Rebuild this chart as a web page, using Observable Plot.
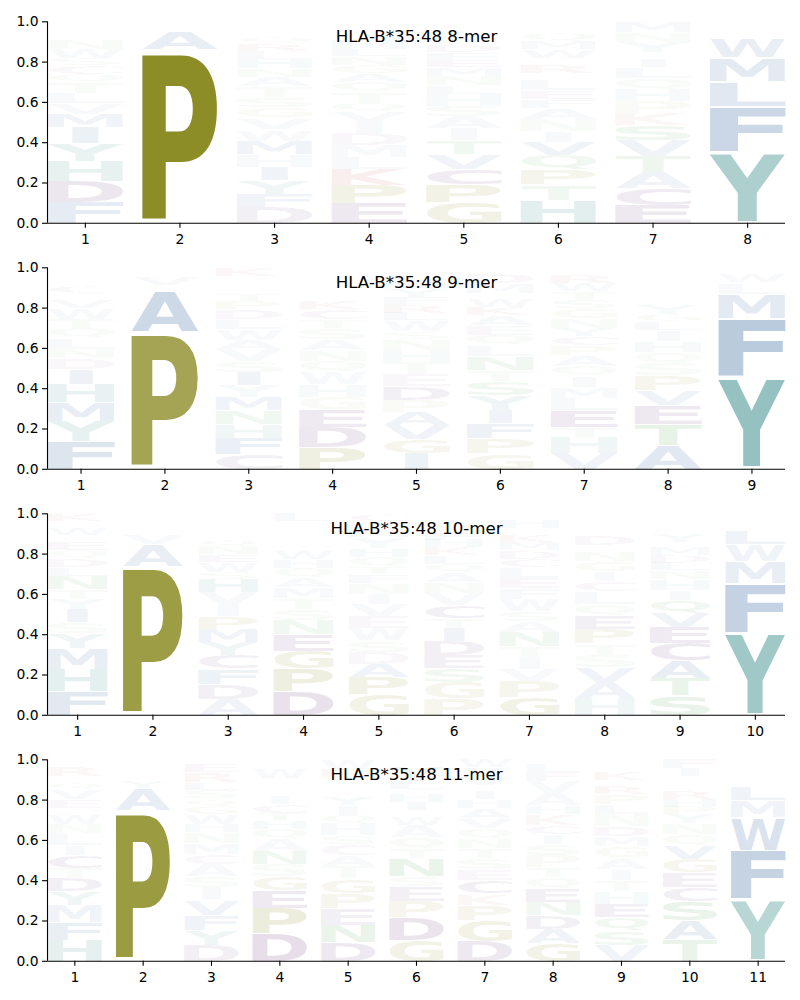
<!DOCTYPE html>
<html>
<head>
<meta charset="utf-8">
<script src="https://cdn.jsdelivr.net/npm/d3@7"></script>
<script src="https://cdn.jsdelivr.net/npm/@observablehq/plot@0.6"></script>
<style>body{margin:0;background:#fff}svg{display:block}</style>
</head>
<body>
<div id="chart"></div>
<script>
const titles = ["HLA-B*35:48 8-mer","HLA-B*35:48 9-mer","HLA-B*35:48 10-mer","HLA-B*35:48 11-mer"];

// Each string is one peptide position; letters stacked bottom-up with height in percent.
const logo8 = [
 "F10 D10 H9.5 Y8.5 I7.5 M6.5 V5 L5 T5 Q4 C4 S3.5 W4.5 N4.5 E2.5 A3 Y1.5 K1.5",
 "S1.2 P82.8 M2.5 A9 T1 Y2 W1.5 K.5",
 "D7.5 F6.5 Y6.5 I6.5 H6 M6.5 W5.5 V5.5 G5 S5 T5 A4.5 N4 H4.5 L4 R3.5 Q3.5 V2.5 K2.5 E2",
 "E9 P8.5 K7.5 L5.5 M5.5 D5.5 I5.5 V4.5 Q4 T5 Q4.5 A4 G4 N4 L3.5 H4.5 K3 S2.5 F2.5",
 "G9.5 P8.5 C7.5 V7 T6.5 I5.5 A5.5 S5 H5.5 L4 N4.5 M4 E3.5 F3.5 D3.5 Q3 T2.5 K2 W2 S1.5",
 "H10.5 T7 P7 Q6.5 V6 I5 N5.5 A5 F4 E4 L5 S3 R4 Y3 W4 M3.5 Q3.5 D3 K2.5",
 "E8.5 C8 A7.5 T7.5 V7.5 S7 K5.5 P5.5 H5.5 Q5.5 L5 I4 R3 Y5 N4.5 M5",
 "S1.2 Y33 K1.3 F21.4 S1.1 L12 T.5 M11.5 T.5 W9.5 K1 I2 T1 V1.5 E1.5 K1"
];
const logo9 = [
 "F13 Y9.5 M9 H8.5 I7 D5 N4.5 L5 Q4.5 T4.5 W5 V4 Q3 C3.5 E3 G3 K2.5",
 "S1 P65 M2 A20 T.5 Q2.5 K.5 V4 Y2 T1.5 L1",
 "C7 F7.5 H6.5 N6.5 M6 Y5.5 I6 S5 V5.5 A4.5 W5 L4.5 D4.5 P4 T3.5 Q3 E3 R2 K4",
 "P10 D9 E8 G5.5 H5.5 W5.5 Q5 N5 A5 S5 T4 C4.5 K4 L3 V3 I3 M3 R2.5",
 "I7 G6.5 V6.5 A6 P5.5 D6 E5.5 T5.5 H5.5 N5 S3.5 W5 L3.5 R3.5 F3.5 Y3.5 Q4 C3.5 M2.5",
 "G7 P6.5 F6.5 I6 Y6.5 S6 T5 N6 L5 Q4.5 E4 A4.5 K3.5 W3.5 V3 M4 D4 H3",
 "V7 H7 T5 E7.5 L5.5 M5 I5 Q4.5 A5 P4.5 C4 Y3.5 N4.5 G4.5 S4 T4 W3.5 R4 K3",
 "A11 T9.5 E8.5 V7 P6.5 S5.5 Q5 H5 I5 L4 G3.5 Y4.5 R2 M2 D3 K2 N2.5 F2.5 W2.5",
 "S1.3 Y42.9 K2 F27.7 S1 M11.6 T.5 L5.2 T.5 W3.9 K.5 V2.8"
];
const logo10 = [
 "F11 H10.5 M9.5 Y7 S5 I6 Y5 T4.5 N6 L4 D4 Q4 E4 A3 W3.5 R3 K3.5",
 "S1 P70.8 M2.2 A10.5 T.5 V5 T.5 Y2.5 Q3 T2 K2",
 "A7.5 D7 F7 C6.5 Y6 M6 P6 I5.5 V5.5 H6 S3.5 W4.5 E3.5 N4 Q3.5 L3 T2.5 V3 K3",
 "D11 P10.5 G8 E7.5 N6.5 S5 T5 M5 A4.5 Q4.5 H4 W3.5 V3 Y2.5 I2.5 K3 R3 L3.5",
 "G9.5 P8 A6 D5.5 S5.5 W5.5 E5.5 V5.5 I5 N5 F4 T3.5 Q4.5 H4 Y5 M4.5 L3 C3.5",
 "P7.5 G7.5 S6.5 E6 D6.5 I6 T4.5 C6 V5.5 N5 A4.5 Q4 L4 K3.5 H3.5 F3.5 Y2.5 S3 W3",
 "G8.5 P7.5 V6 I5.5 T5 N7 A5 S5 W5.5 F5 E5 L5 C4 D4 M4 K3.5 R3 H4 Y3",
 "H7.5 A7 V6.5 S5.5 T5 P6.5 E6 Q5 L5.5 C4.5 I4.5 G4.5 N4 Q3 D4 R2.5 K2.5 W2.5 M2.5",
 "S9 T8 A8 C8 E7.5 V6.5 Q6 I4.5 H5 N4 L3.5 D3.5 M3.5 F2.5 Y4 R3 K3 W3",
 "S.8 Y38.8 K1.5 F23.8 S.5 M10.3 T.6 W8.2 E.5 L7 T.5 E1.5 K1 V1.5 R1.5 G2"
];
const logo11 = [
 "H10 F8 M8 Y6.5 D6 T5 C6 I4.5 L5.5 N4.5 W4.5 S3 E4 V4.5 Q3.5 A3 R4.5 K3",
 "S.8 P71.8 M2.2 A10.7 T.5 Y3.5 T.5 S3 K3 T2 V1.5 E.5",
 "D7.5 Y7 F7 V7 I5.5 S5.5 A5.5 C4.5 M5 N5 H4 W4.5 G3.8 Q3.5 S4 L3.5 R4.5 E4 K2",
 "D12.5 P12 E8 G6.5 S5.5 N6 A5.5 Q4.5 H4 T3.5 C4 I3.5 L3 M3 Y2.5 W4.5 V2 K2",
 "D8.5 N8 E7.5 P7 G6.5 T5.5 A5 C5 S4 H5.5 Q4 I4.5 Y4 L3 K2.5 F3 R3.5 W4.5",
 "G9.5 D10 P7.5 E6.5 S4.5 N8 T4.5 Q5 A5.5 W3.5 V3 I3.8 H3.5 K2.5 L3.5 Y6.5 Q3",
 "D9 G9.5 P7 K5 C6 E5 S5 T4.5 N4.5 Q4.5 V4.5 A4.5 H4 I3.5 L3 V4 Y4 W3.5",
 "G8 A6.5 D6 N6 E6 Q5 T4.5 P5.5 S5 I4.5 C4 K5 H4 A5.5 V5.5 F4 L3.5 W2",
 "V7 S6.5 Q6 E6 H5.5 T5 I5 A5 G5 M4.5 D4.5 N5.5 L4 P4.5 R3.5 C3 K3.5 F2.5 W3",
 "T9.5 A8.5 S8.5 C6.5 E6.5 G6 V6 Q5 N5 Y4 P3.5 H3.5 R3.5 L2 M2 K2.5 I3.5 F4",
 "S.8 Y29 K1.5 F23.7 S.6 W15.9 T.5 M7.7 T.5 L7 T.5 K2.5 T.5 E3 Q3 V3 R.8"
];
const logos = [logo8, logo9, logo10, logo11];

const groupColors = [
  ["PG", "#787800"],
  ["DEC", "#4e1165"],
  ["KR", "#a80a00"],
  ["HY", "#0f7570"],
  ["NSTQ", "#2a8e2a"],
  ["AVLIMFW", "#104a8c"]
];
const colorOf = {};
for (const [letters, c] of groupColors) for (const l of letters) colorOf[l] = c;

const fontFamily = "DejaVu Sans";
const ctx = document.createElement("canvas").getContext("2d");
ctx.font = `bold 100px "${fontFamily}"`;

function rowsFor(logo) {
  const rows = [];
  logo.forEach((col, i) => {
    const items = col.trim().split(/\s+/).map(s => ({letter: s[0], h: +s.slice(1)}));
    const total = d3.sum(items, d => d.h);
    let acc = 0;
    for (const it of items) {
      const y0 = acc / total;
      acc += it.h;
      rows.push({pos: i + 1, letter: it.letter, y0, y1: acc / total, share: it.h / total});
    }
  });
  return rows;
}

function stretch(rows) {
  return (index, scales, values, dimensions, context, next) => {
    const g = next(index, scales, values, dimensions, context);
    const nodes = g.querySelectorAll("text");
    index.forEach((ix, k) => {
      const d = rows[ix], el = nodes[k];
      const m = ctx.measureText(d.letter);
      const left = -m.actualBoundingBoxLeft, right = m.actualBoundingBoxRight;
      const asc = m.actualBoundingBoxAscent, desc = m.actualBoundingBoxDescent;
      const half = d.letter === "I" ? 0.14 : 0.4;
      const xa = scales.x(d.pos - half), xb = scales.x(d.pos + half);
      const pad = d.share > 0.02 ? Math.abs(scales.y(0) - scales.y(0.0015)) : 0;
      const ya = scales.y(d.y0) - pad, yb = scales.y(d.y1) + pad;
      const sx = (xb - xa) / (right - left);
      const sy = (ya - yb) / (asc + desc);
      ["x", "y", "dy", "dx"].forEach(a => el.removeAttribute(a));
      el.setAttribute("text-anchor", "start");
      el.setAttribute("transform",
        `translate(${xa},${ya}) scale(${sx},${sy}) translate(${-left},${-desc})`);
    });
    return g;
  };
}

const root = document.getElementById("chart");
logos.forEach((logo, p) => {
  const n = logo.length;
  const rows = rowsFor(logo);
  const positions = d3.range(1, n + 1);
  const svg = Plot.plot({
    width: 800,
    height: 246.1,
    marginLeft: 47,
    marginRight: 15,
    marginTop: 21.3,
    marginBottom: 23.3,
    style: {fontFamily: fontFamily, fontSize: "13.9px", color: "#000", background: "#fff", overflow: "visible"},
    x: {domain: [0.6, n + 0.4], label: null},
    y: {domain: [0, 1], label: null},
    marks: [
      Plot.text(rows, {
        x: "pos", y: "y0", text: "letter",
        fill: d => colorOf[d.letter],
        fillOpacity: d => Math.min(1, d.share * 1.03 * Math.min(1, 0.5 + d.share * 6)),
        fontFamily: fontFamily, fontWeight: "bold", fontSize: 100,
        render: stretch(rows)
      }),
      Plot.axisX({ticks: positions, tickFormat: "d", tickSize: 5, tickPadding: 5.5, strokeWidth: 1.1, stroke: "#000", fill: "#000", label: null, fontSize: 13.9}),
      Plot.axisY({ticks: d3.range(0, 11).filter(v => v % 2 === 0).map(v => v / 10), tickFormat: ".1f", tickSize: 5, tickPadding: 4, strokeWidth: 1.1, stroke: "#000", fill: "#000", label: null, fontSize: 13.9}),
      Plot.ruleY([0], {stroke: "#000", strokeWidth: 1.1}),
      Plot.ruleX([0.6], {stroke: "#000", strokeWidth: 1.1}),
      Plot.text([titles[p]], {
        x: (n + 1) / 2, y: 0.925, text: d => d,
        fontFamily: fontFamily, fontSize: 16.67, fill: "#000"
      })
    ]
  });
  root.appendChild(svg);
});
</script>
</body>
</html>
